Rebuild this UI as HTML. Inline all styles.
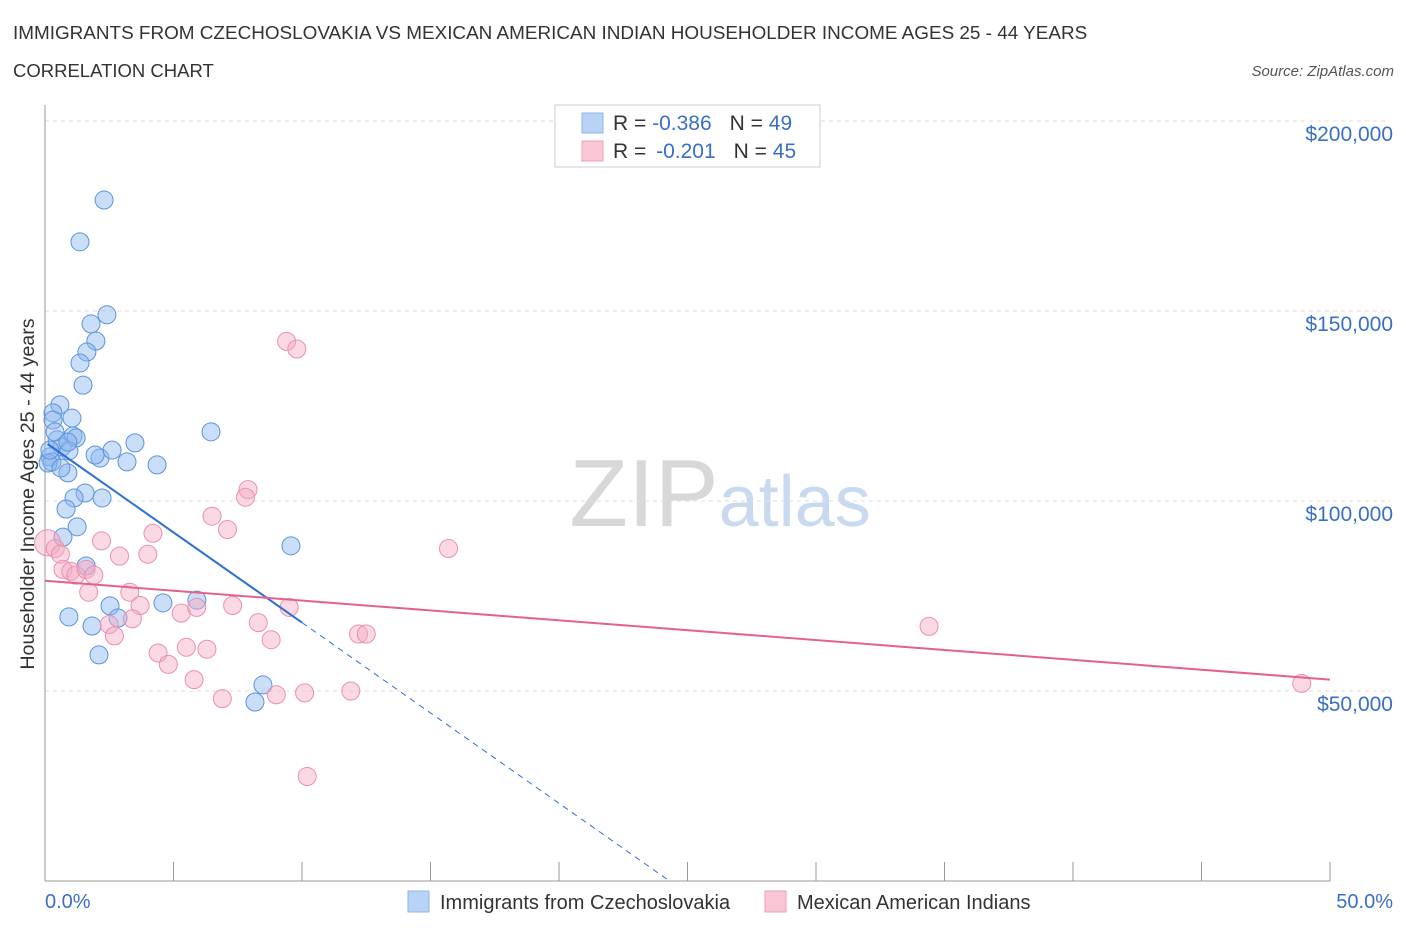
<!DOCTYPE html>
<html><head><meta charset="utf-8"><style>
body{margin:0;background:#fff;font-family:"Liberation Sans",sans-serif;}
svg text{font-family:"Liberation Sans",sans-serif;}
</style></head><body>
<svg id="chart" width="1406" height="930" xmlns="http://www.w3.org/2000/svg">
<text x="13" y="39" font-size="18.9" fill="#333">IMMIGRANTS FROM CZECHOSLOVAKIA VS MEXICAN AMERICAN INDIAN HOUSEHOLDER INCOME AGES 25 - 44 YEARS</text>
<text x="13" y="77" font-size="18.5" fill="#333">CORRELATION CHART</text>
<text x="1394" y="76" font-size="15" fill="#555" text-anchor="end" font-style="italic">Source: ZipAtlas.com</text>
<text x="720" y="526" font-size="96" text-anchor="middle" fill="#ddd" font-family="Liberation Serif"><tspan fill="#d8d8d8">ZIP</tspan><tspan fill="#c9daf0" font-family="Liberation Sans" font-size="72">atlas</tspan></text>
<g id="grid"></g>
<g id="axes"></g>
<g id="pts"></g>
<g id="trends"></g>
<text transform="translate(34,494) rotate(-90)" font-size="19.7" fill="#333" text-anchor="middle">Householder Income Ages 25 - 44 years</text>
<text x="45" y="908" font-size="20" fill="#3a6fc8">0.0%</text>
<text x="1393" y="908" font-size="20" fill="#3a6fc8" text-anchor="end">50.0%</text>
<g>
<rect x="555" y="105" width="265" height="62" fill="#fff" stroke="#ccc"/>
<rect x="582" y="113" width="21" height="20" fill="#b9d3f5" stroke="#8fb4e8"/>
<rect x="582" y="141" width="21" height="20" fill="#f9c6d6" stroke="#ee9db6"/>
<text x="613" y="130" font-size="21" fill="#333">R = <tspan fill="#3a6fc8">-0.386</tspan><tspan dx="18">N = </tspan><tspan fill="#3a6fc8">49</tspan></text>
<text x="613" y="158" font-size="21" fill="#333">R = <tspan dx="4" fill="#3a6fc8">-0.201</tspan><tspan dx="18">N = </tspan><tspan fill="#3a6fc8">45</tspan></text>
</g>
<g>
<rect x="408" y="891" width="21" height="21" fill="#b9d3f5" stroke="#8fb4e8"/>
<text x="440" y="909" font-size="20" fill="#333">Immigrants from Czechoslovakia</text>
<rect x="765" y="891" width="21" height="21" fill="#f9c6d6" stroke="#ee9db6"/>
<text x="797" y="909" font-size="20" fill="#333">Mexican American Indians</text>
</g>
</svg>
<script>
const yTicks=[50000,100000,150000,200000];
const yTickLabels=["$50,000","$100,000","$150,000","$200,000"];
const blueX=[2.30,1.36,2.41,1.79,1.98,1.63,1.36,1.48,0.58,0.31,0.31,1.05,1.09,1.21,0.47,0.66,0.93,0.19,0.27,0.89,2.14,2.61,3.50,3.19,4.36,6.46,1.56,1.13,2.22,0.82,1.25,0.70,1.60,2.53,0.93,1.83,2.84,2.10,4.59,5.91,8.48,8.17,9.57,0.12,0.39,0.89,0.19,0.62,1.95];
const blueY=[179200,168200,149000,146600,142100,139200,136300,130500,125300,123200,121300,121800,117100,116600,116100,114200,113200,111600,110300,107400,111300,113400,115300,110300,109500,118200,102100,100800,100800,97900,93200,90500,82900,72400,69500,67100,69200,59500,73200,73900,51600,47100,88200,110000,118200,115500,113400,108700,112100];
const pinkX=[0.1,0.4,0.6,0.7,1.0,1.2,1.6,1.9,1.7,2.2,2.9,4.0,4.2,3.3,3.7,3.4,2.5,2.7,4.4,4.8,5.5,6.3,5.8,5.3,5.9,6.5,7.1,7.9,7.8,7.3,8.3,8.8,6.9,9.0,10.1,9.5,9.4,9.8,10.2,11.9,12.2,12.5,15.7,34.4,48.9];
const pinkY=[89000,87500,86000,82000,81500,80500,82000,80500,76000,89500,85500,86000,91500,76000,72500,69000,67500,64500,60000,57000,61500,61000,53000,70500,72000,96000,92500,103000,101000,72500,68000,63500,48000,49000,49500,72000,142000,140000,27500,50000,65000,65000,87500,67000,52000];
const blueTrend=[0.1,115000,10.0,68000];
const blueDash=[24.3,0];
const pinkTrend=[0,79000,50,53000];
const X0=45,X1=1330,YB=881,PPK=190/50000;
const sx=v=>X0+(X1-X0)*v/50;
const sy=v=>YB-v*PPK;
const NS="http://www.w3.org/2000/svg";
function mk(t,a,p){const e=document.createElementNS(NS,t);for(const k in a)e.setAttribute(k,a[k]);p.appendChild(e);return e;}
const grid=document.getElementById('grid'),axes=document.getElementById('axes'),pts=document.getElementById('pts'),tr=document.getElementById('trends');
yTicks.forEach((v,i)=>{
 const l=mk('line',{x1:45,x2:1390,y1:sy(v),y2:sy(v),stroke:'#ddd','stroke-dasharray':'4,4'},grid);
 
 
 const t=mk('text',{x:1393,y:sy(v)+20,'font-size':21,fill:'#3a6fc8','text-anchor':'end'},axes);
 t.textContent=yTickLabels[i];
 
 
});
const ax=mk('line',{x1:45,x2:45,y1:105,y2:881,stroke:'#999'},axes);


const bx=mk('line',{x1:45,x2:1330,y1:881,y2:881,stroke:'#999'},axes);


for(let i=0;i<=10;i++){const t=mk('line',{x1:sx(i*5),x2:sx(i*5),y1:881,y2:i==0?881:862,stroke:'#999'},axes);
 
 }
blueX.forEach((x,i)=>{const c=mk('circle',{cx:sx(x),cy:sy(blueY[i]),r:9,fill:'rgba(140,182,238,0.45)',stroke:'#5a93dd','stroke-width':1},pts);
 
 });
pinkX.forEach((x,i)=>{const c=mk('circle',{cx:sx(x),cy:sy(pinkY[i]),r:i==0?13:9,fill:'rgba(245,170,195,0.45)',stroke:'#ec8fae','stroke-width':1},pts);
 
 });
const b1=mk('line',{x1:sx(blueTrend[0]),y1:sy(blueTrend[1]),x2:sx(blueTrend[2]),y2:sy(blueTrend[3]),stroke:'#2d6fd2','stroke-width':2},tr);


const b2=mk('line',{x1:sx(blueTrend[2]),y1:sy(blueTrend[3]),x2:sx(blueDash[0]),y2:sy(blueDash[1]),stroke:'#2d6fd2','stroke-width':1,'stroke-dasharray':'6,5'},tr);


const p1=mk('line',{x1:sx(pinkTrend[0]),y1:sy(pinkTrend[1]),x2:sx(pinkTrend[2]),y2:sy(pinkTrend[3]),stroke:'#e5608e','stroke-width':2},tr);


</script>
</body></html>
